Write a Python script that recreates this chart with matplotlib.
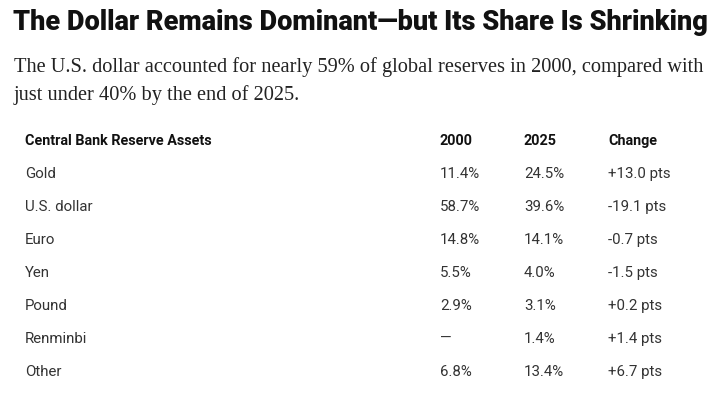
import matplotlib.pyplot as plt

# table data
assets = ['Gold', 'U.S. dollar', 'Euro', 'Yen', 'Pound', 'Renminbi', 'Other']
share_2000 = [11.4, 58.7, 14.8, 5.5, 2.9, None, 6.8]
share_2025 = [24.5, 39.6, 14.1, 4.0, 3.1, 1.4, 13.4]
change = [13.0, -19.1, -0.7, -1.5, 0.2, 1.4, 6.7]
headers = ['Central Bank Reserve Assets', '2000', '2025', 'Change']

title = 'The Dollar Remains Dominant\u2014but Its Share Is Shrinking'
subtitle = ('The U.S. dollar accounted for nearly 59% of global reserves in 2000, compared with\n'
            'just under 40% by the end of 2025.')

W, H = 725, 409
fig = plt.figure(figsize=(W / 100, H / 100), dpi=100)
fig.patch.set_facecolor('white')


def px(x, y):
    return x / W, 1 - y / H


t = fig.text(*px(13, 22), title, fontsize=20, fontweight='heavy', family='Roboto',
             color='#111111', va='center', ha='left')
# no condensed face installed: size the title to the width it takes in the original
r = fig.canvas.get_renderer()
w = t.get_window_extent(r).width
t.set_fontsize(20 * 695 / w)

fig.text(*px(14, 81), subtitle, fontsize=14.7, family='Liberation Serif',
         color='#222222', va='center', ha='left', linespacing=1.5)

col_x = [25, 440, 524, 608]
row0 = 141
step = 33

for x, h in zip(col_x, headers):
    fig.text(*px(x, row0), h, fontsize=10.4, fontweight='bold', family='Roboto',
             color='#111111', va='center', ha='left')


def pct(v):
    return '\u2014' if v is None else f'{v:.1f}%'


for i, a in enumerate(assets):
    y = row0 + step * (i + 1)
    cells = [a, pct(share_2000[i]), pct(share_2025[i]), f'{change[i]:+.1f} pts']
    for x, c in zip(col_x, cells):
        fig.text(*px(x, y), c, fontsize=10.8, family='Roboto',
                 color='#333333', va='center', ha='left')

fig.savefig('out.png', dpi=100)
